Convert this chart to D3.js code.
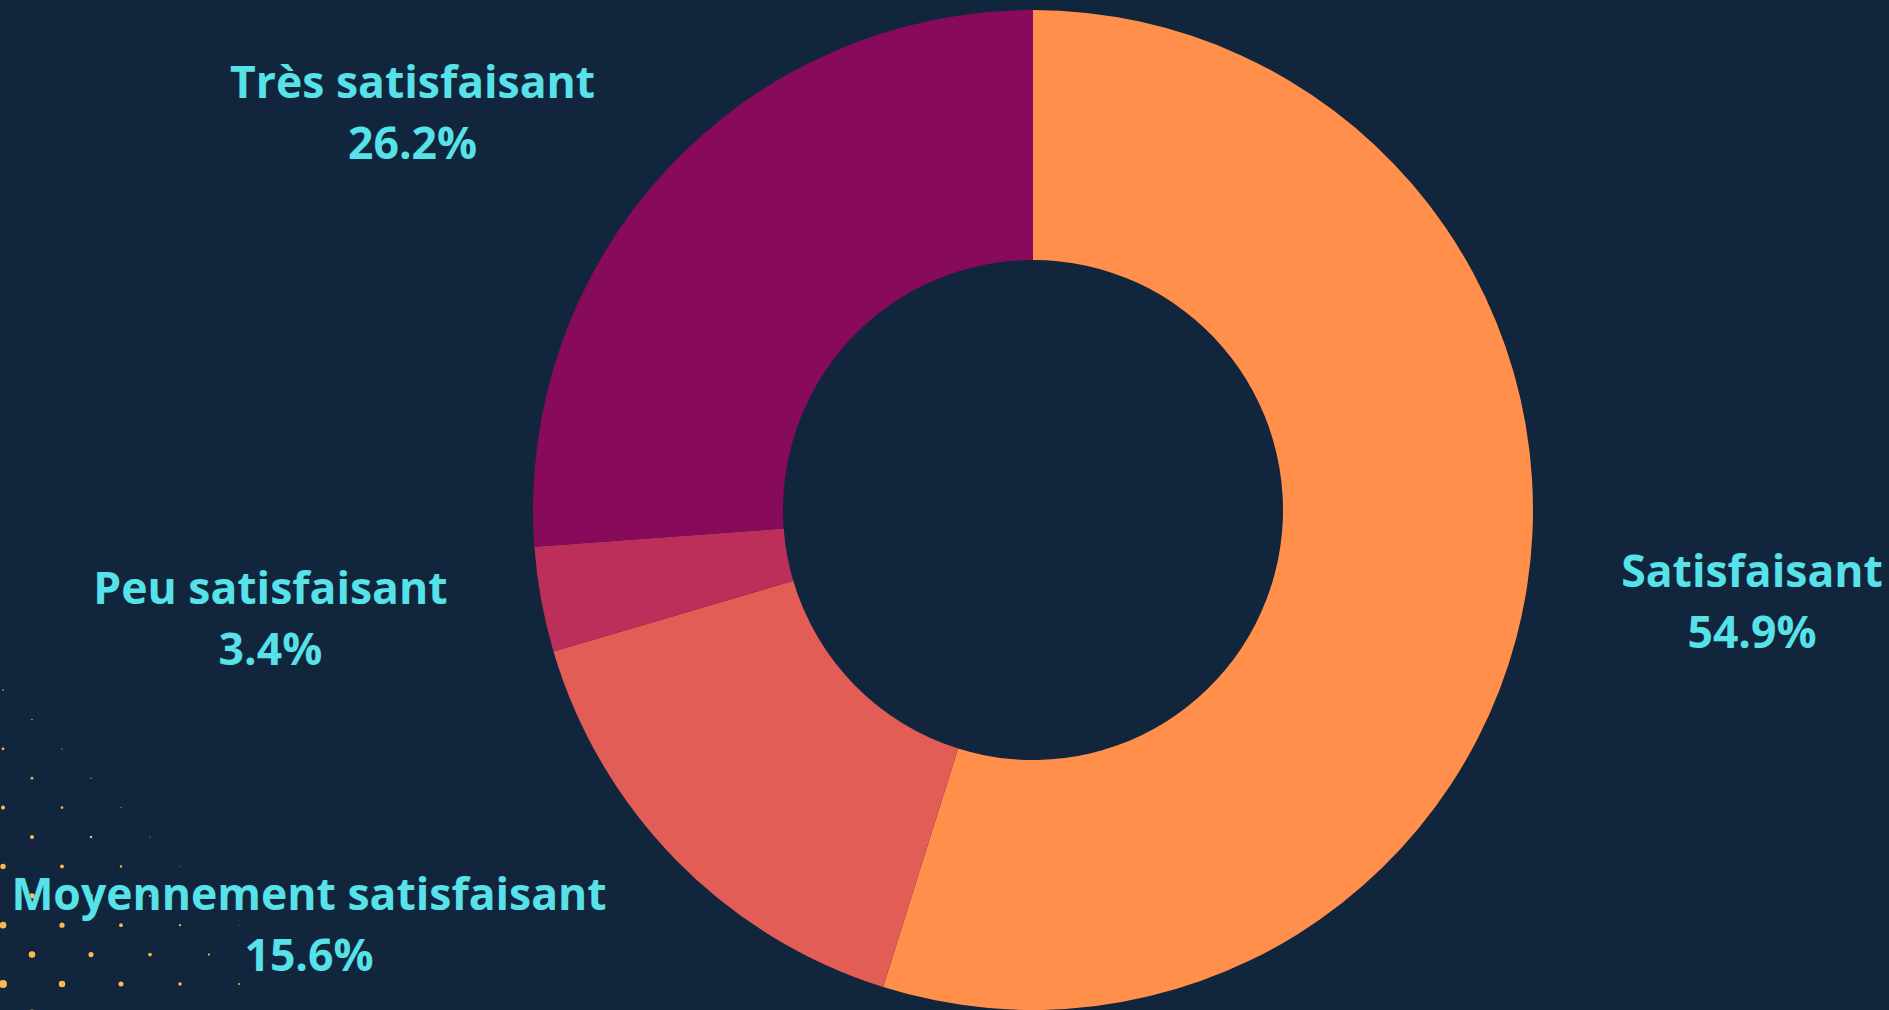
<!DOCTYPE html>
<html>
<head>
<meta charset="utf-8">
<script src="https://cdn.jsdelivr.net/npm/d3@7"></script>
<style>
  html, body { margin: 0; padding: 0; background: #11253d; overflow: hidden; }
  svg { display: block; }
  .lbl { font-family: "Open Sans", "Noto Sans", sans-serif; font-weight: 700; fill: #57e1e8; }
</style>
</head>
<body>
<div id="chart"></div>
<script>
 var categories = ['Satisfaisant', 'Moyennement satisfaisant', 'Peu satisfaisant', 'Très satisfaisant'],
     values = [54.9, 15.6, 3.4, 26.2],
     colors = ['#ff8f4a', '#e35d57', '#bb2f5a', '#880a5a'];

 var pic_width = 1889,
     pic_height = 1010,
     cx = 1033, cy = 510, // centre of the donut
     outer_r = 500,
     inner_r = 250,
     label_r = 588, // where the label block touches
     label_gap = 7,
     font_size = 44.5,
     line_gap = 61;

 var svg = d3.select('#chart').append('svg')
     .attr('width', pic_width)
     .attr('height', pic_height);

 // halftone dots in the lower left corner (decoration)
 var dots = [];
 for (var row = 0; row < 12; row++) {
     var y = 690 + row * 29.4;
     var x0 = row % 2 === 0 ? 3 : 32;
     for (var x = x0; x < 420; x += 59) {
         var r = 4.3 - 0.0125 * x - 0.011 * (1010 - y);
         if (r > 0.35) dots.push({ x: x, y: y, r: r });
     }
 }
 svg.append('g').selectAll('circle').data(dots)
     .enter().append('circle')
     .attr('cx', function(d) { return d.x; })
     .attr('cy', function(d) { return d.y; })
     .attr('r', function(d) { return d.r; })
     .style('fill', '#ffb84f');

 var pie = d3.pie().sort(null).value(function(d) { return d; });
 var arcs = pie(values);

 var arc = d3.arc().innerRadius(inner_r).outerRadius(outer_r);

 var g = svg.append('g')
     .attr('transform', 'translate(' + cx + ', ' + cy + ')');

 g.selectAll('path').data(arcs)
     .enter().append('path')
     .attr('d', arc)
     .style('fill', function(d, i) { return colors[i]; });

 // labels: block put beside a point on a circle outside the ring
 var labels = g.selectAll('text').data(arcs)
     .enter().append('text')
     .attr('class', 'lbl')
     .style('font-size', font_size + 'px')
     .attr('text-anchor', 'middle');

 labels.each(function(d, i) {
     var t = d3.select(this);
     var a = (d.startAngle + d.endAngle) / 2;
     var ax = Math.sin(a) * label_r,
         ay = -Math.cos(a) * label_r;
     var l1 = t.append('tspan').text(categories[i]);
     var l2 = t.append('tspan').text(values[i].toFixed(1) + '%');
     var w = Math.max(l1.node().getComputedTextLength(), l2.node().getComputedTextLength());
     var mid = ax >= 0 ? ax + label_gap + w / 2 : ax - label_gap - w / 2;
     l1.attr('x', mid).attr('y', ay - 12);
     l2.attr('x', mid).attr('y', ay - 12 + line_gap);
 });
</script>
</body>
</html>
